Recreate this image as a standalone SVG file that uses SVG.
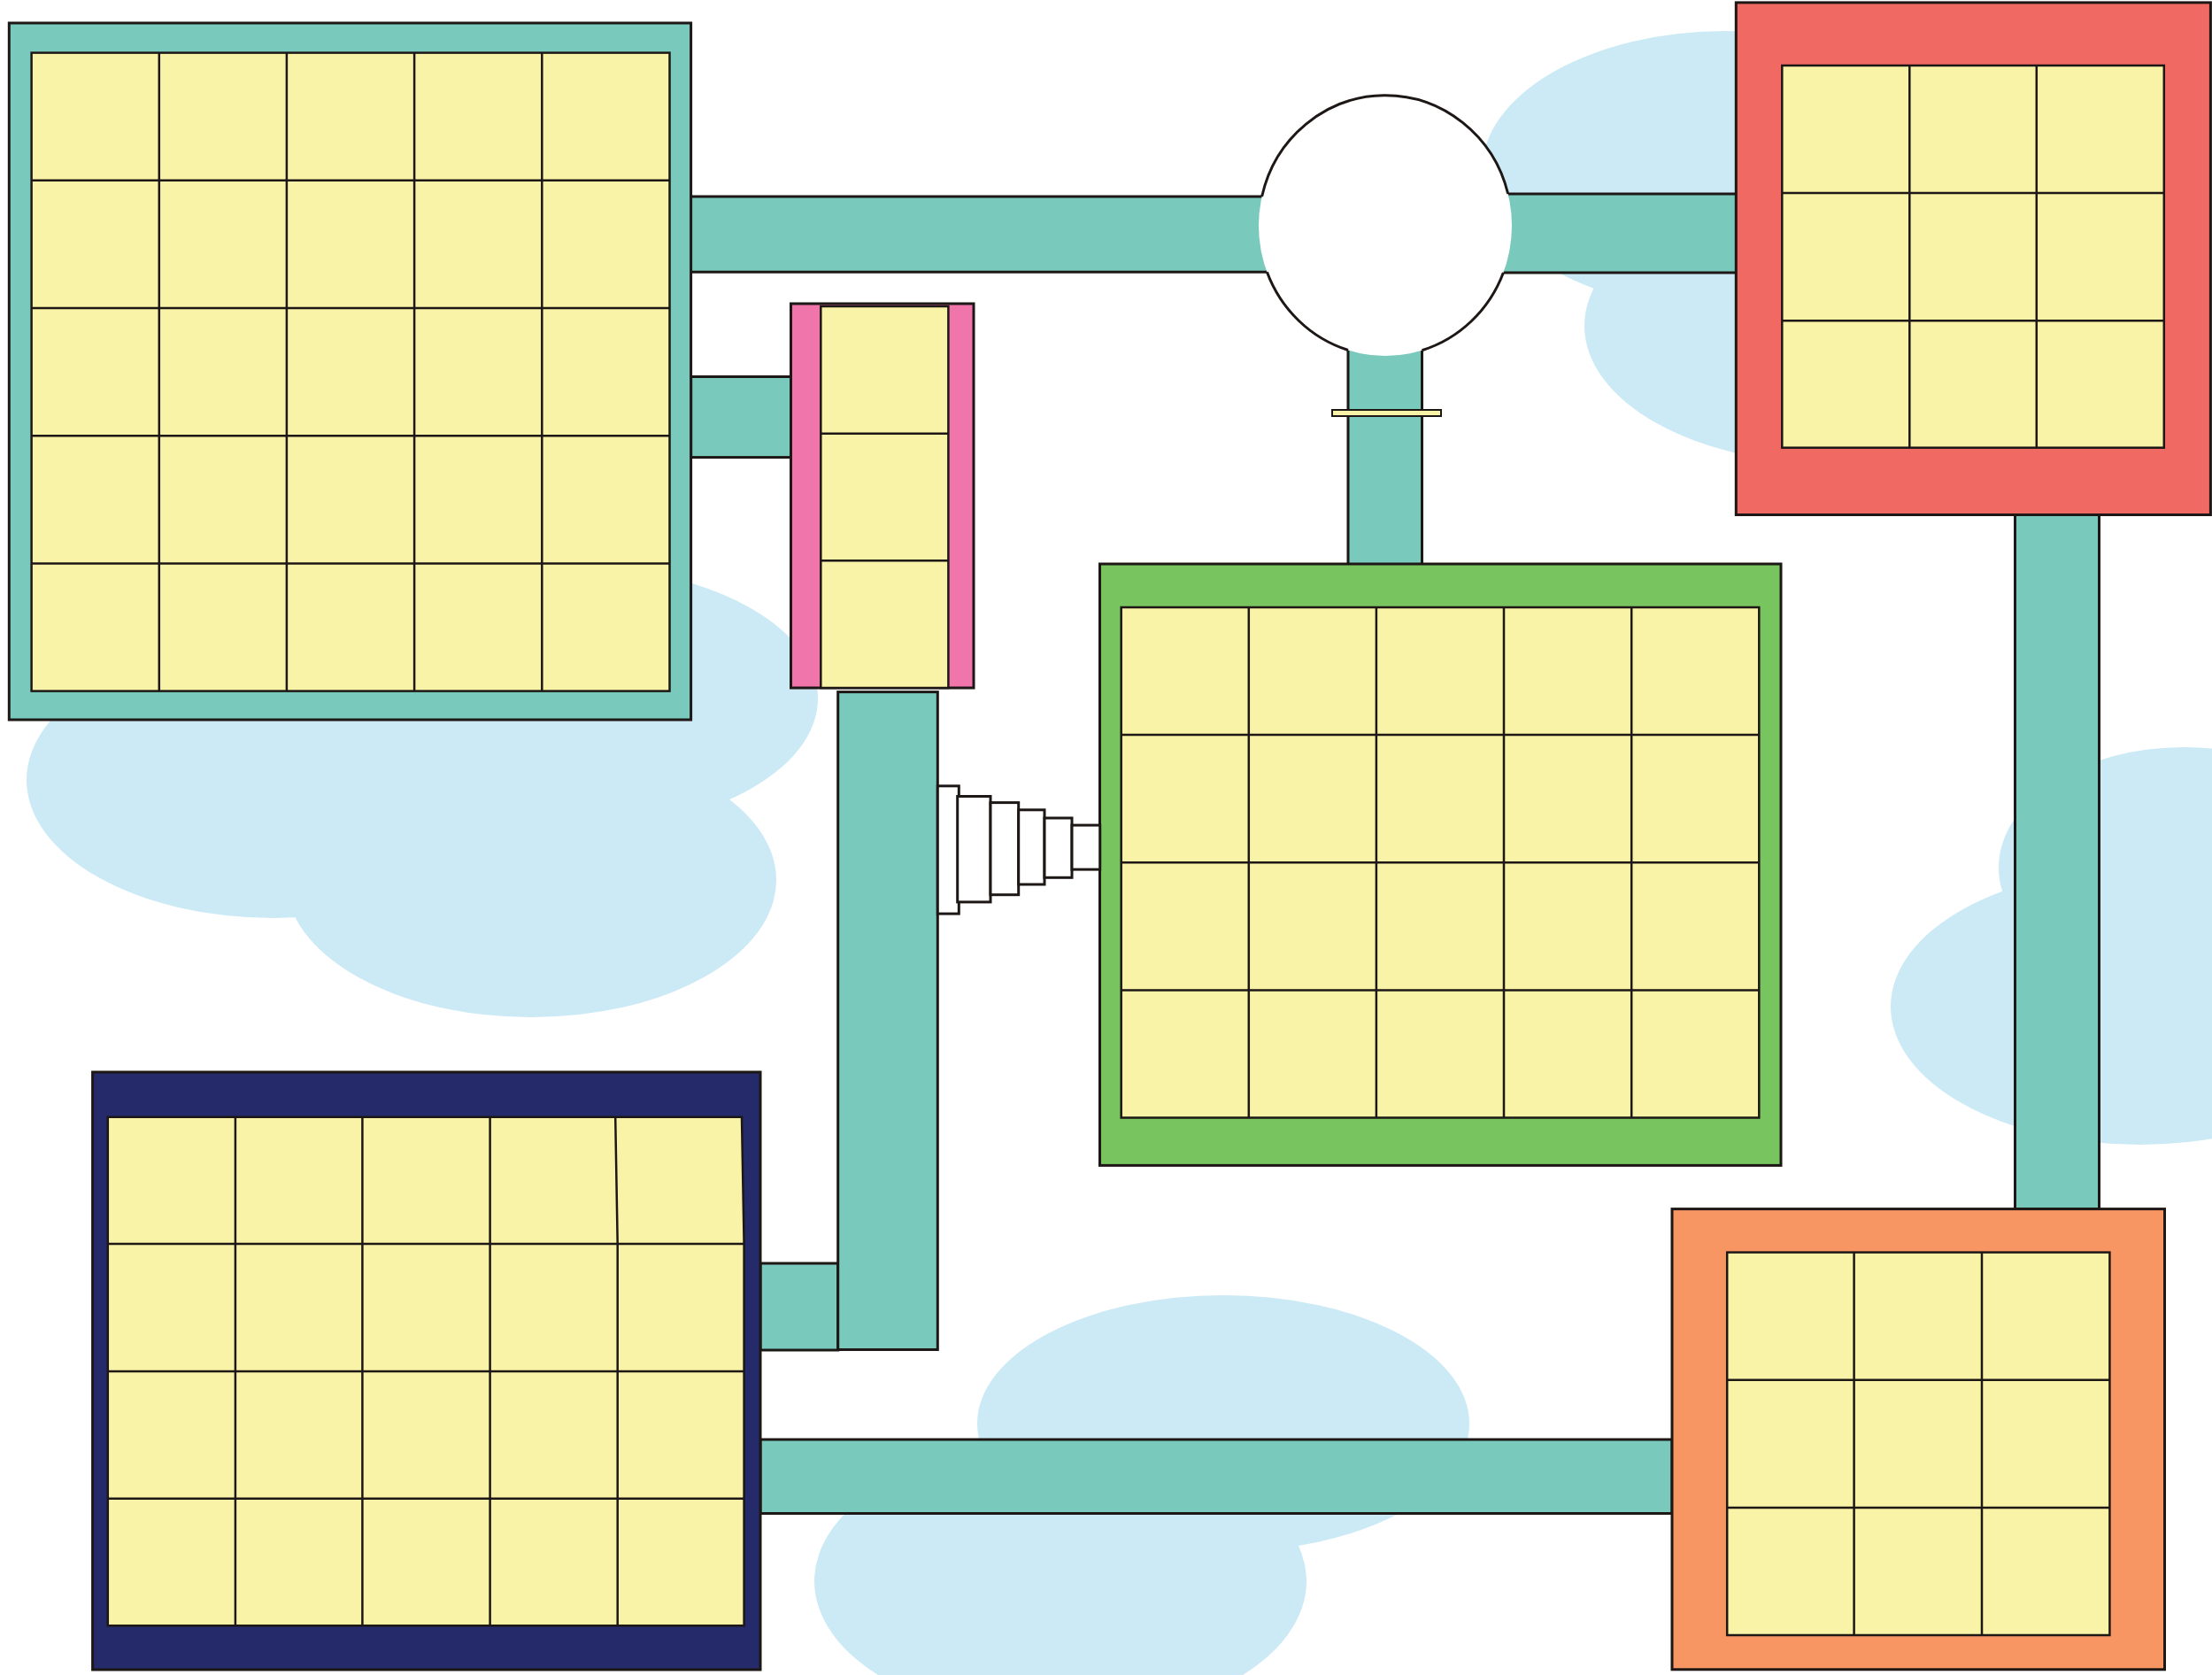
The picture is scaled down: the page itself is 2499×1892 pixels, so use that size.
<svg xmlns="http://www.w3.org/2000/svg" width="2499" height="1892" viewBox="0 0 2499 1892">
<style>
.cloud{fill:#cceaf6}
.bar{fill:#79c9bd;stroke:#1d1716;stroke-width:3}
.barfill{fill:#79c9bd;stroke:none}
.edge{stroke:#1d1716;stroke-width:3;fill:none}
.frame{stroke:#1d1716;stroke-width:3}
.teal{fill:#79c9bd}
.red{fill:#f16963}
.green{fill:#78c45f}
.navy{fill:#242a6a}
.orange{fill:#f79563}
.pink{fill:#f075ab}
.cell{fill:#f8f3a7;stroke:#1d1716;stroke-width:2.5}
.grid{stroke:#1d1716;stroke-width:2.5;fill:none}
.step{fill:#ffffff;stroke:#1d1716;stroke-width:3}
</style>
<rect width="2499" height="1892" fill="#ffffff"/>
<g id="clouds">
<ellipse class="cloud" cx="309" cy="881" rx="279" ry="156"/>
<ellipse class="cloud" cx="640" cy="789" rx="284" ry="150"/>
<ellipse class="cloud" cx="600" cy="994" rx="277" ry="155"/>
<ellipse class="cloud" cx="1382" cy="1608" rx="278" ry="145"/>
<ellipse class="cloud" cx="1198" cy="1786" rx="278" ry="158"/>
<ellipse class="cloud" cx="1950" cy="193" rx="276" ry="158"/>
<ellipse class="cloud" cx="2070" cy="368" rx="280" ry="156"/>
<ellipse class="cloud" cx="2417" cy="1137" rx="281" ry="156"/>
<ellipse class="cloud" cx="2467" cy="980" rx="209" ry="136"/>
</g>
<g id="connectors">
<rect class="barfill" x="780" y="222" width="680" height="85.3"/>
<line class="edge" x1="774" y1="222" x2="1425.6" y2="222"/>
<line class="edge" x1="774" y1="307.3" x2="1431.4" y2="307.3"/>
<rect class="barfill" x="1680" y="219" width="281" height="89"/>
<line class="edge" x1="1703.7" y1="219" x2="1961" y2="219"/>
<line class="edge" x1="1698.4" y1="308" x2="1961" y2="308"/>
<rect class="barfill" x="1523" y="370" width="83.5" height="267"/>
<line class="edge" x1="1523" y1="395.5" x2="1523" y2="637"/>
<line class="edge" x1="1606.5" y1="395.7" x2="1606.5" y2="637"/>
<rect x="1505" y="463" width="123" height="7" fill="#f8f3a7" stroke="#1d1716" stroke-width="2"/>
<rect class="bar" x="780.6" y="425.5" width="112.9" height="91.1"/>
<rect class="bar" x="859" y="1427" width="87.7" height="98"/>
<rect class="bar" x="946.7" y="781.6" width="112.6" height="742.9"/>
<rect class="bar" x="859" y="1626" width="1030" height="83.5"/>
<rect class="bar" x="2276.5" y="581.5" width="95" height="784.1"/>
</g>
<g id="hub">
<ellipse cx="1565" cy="255" rx="143" ry="147" fill="#ffffff"/>
<path class="edge" d="M1425.6 222 A143 147 0 0 1 1703.7 219 M1698.4 308 A143 147 0 0 1 1606.5 395.7 M1523 395.5 A143 147 0 0 1 1431.4 307.3"/>
</g>
<g id="teal-node">
<rect class="teal frame" x="10.3" y="26" width="770.3" height="787"/>
<rect class="cell" x="35.6" y="59.6" width="720.9" height="721"/>
<path class="grid" d="M179.8 59.6V780.6M323.9 59.6V780.6M468.1 59.6V780.6M612.3 59.6V780.6M35.6 203.8H756.5M35.6 348H756.5M35.6 492.2H756.5M35.6 636.4H756.5"/>
</g>
<g id="pink-node">
<rect class="pink frame" x="893.5" y="343" width="206.5" height="434"/>
<rect class="cell" x="927.3" y="346" width="144.1" height="431"/>
<path class="grid" d="M927.3 489.7H1071.4M927.3 633.3H1071.4"/>
</g>
<g id="red-node">
<rect class="red frame" x="1961.3" y="2.9" width="536.1" height="578.6"/>
<rect class="cell" x="2013.3" y="74" width="431.5" height="431.7"/>
<path class="grid" d="M2157.3 74V505.7M2300.8 74V505.7M2013.3 218.1H2444.8M2013.3 362.2H2444.8"/>
</g>
<g id="green-node">
<rect class="green frame" x="1242.5" y="637" width="769.5" height="679.4"/>
<rect class="cell" x="1266.7" y="686" width="720.6" height="576.5"/>
<path class="grid" d="M1410.8 686V1262.5M1554.9 686V1262.5M1699 686V1262.5M1843.2 686V1262.5M1266.7 830.1H1987.3M1266.7 974.2H1987.3M1266.7 1118.4H1987.3"/>
</g>
<g id="navy-node">
<rect class="navy frame" x="104.6" y="1211" width="754.4" height="675"/>
<polygon class="cell" points="121.8,1261.7 838,1261.7 840.6,1405 840.6,1836.2 121.8,1836.2"/>
<path class="grid" d="M265.9 1261.7V1836.2M409.4 1261.7V1836.2M553.6 1261.7V1836.2M695.2 1261.7L697.7 1405V1836.2M121.8 1405.1H840.6M121.8 1549H840.6M121.8 1692.8H840.6"/>
</g>
<g id="orange-node">
<rect class="orange frame" x="1889" y="1365.6" width="556.5" height="520.2"/>
<rect class="cell" x="1951.2" y="1414.6" width="432.2" height="432.4"/>
<path class="grid" d="M2094.6 1414.6V1847M2239 1414.6V1847M1951.2 1558.8H2383.4M1951.2 1702.9H2383.4"/>
</g>
<g id="funnel">
<rect class="step" x="1059.3" y="887.8" width="24" height="144.3"/>
<rect class="step" x="1081.7" y="899.5" width="37.3" height="119.4"/>
<rect class="step" x="1119" y="906.6" width="31.7" height="104.1"/>
<rect class="step" x="1150.7" y="914.8" width="29.3" height="84.2"/>
<rect class="step" x="1180" y="924" width="31" height="67.3"/>
<rect class="step" x="1211" y="932.1" width="31.7" height="50"/>
</g>
</svg>
